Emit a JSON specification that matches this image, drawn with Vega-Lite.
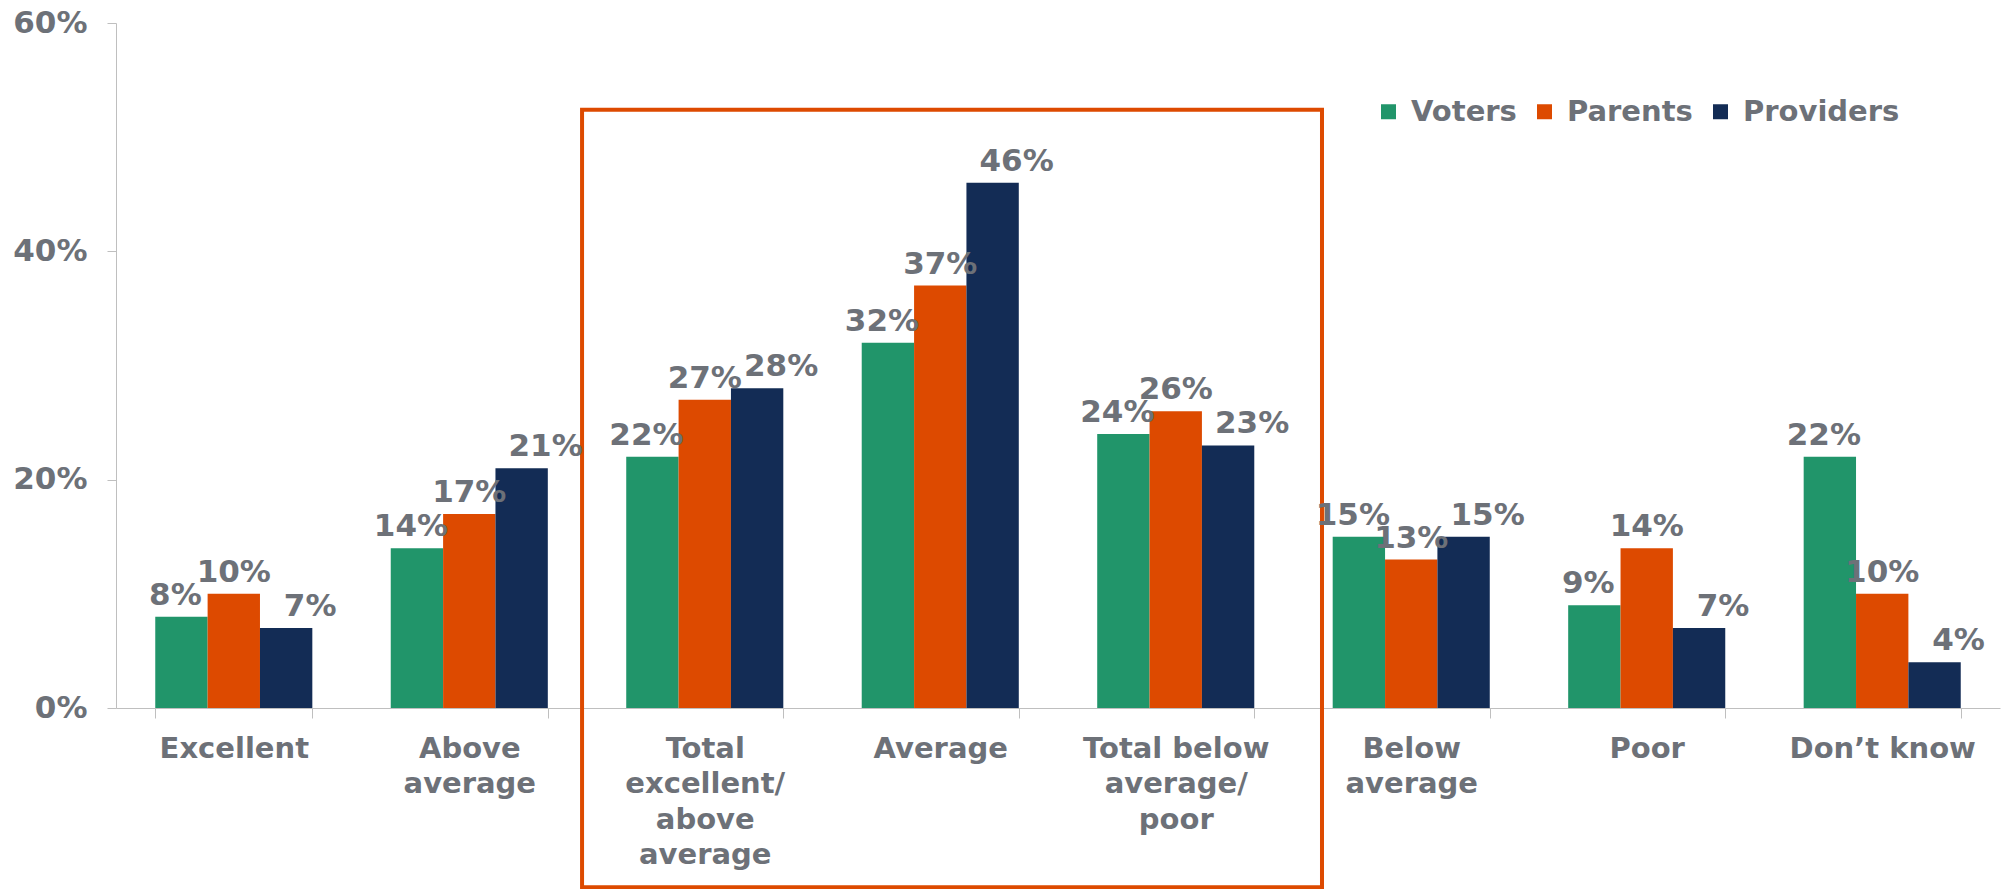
{
  "$schema": "https://vega.github.io/schema/vega-lite/v6.json",
  "width": 1884,
  "height": 685,
  "autosize": {"type": "none"},
  "padding": {"left": 116, "top": 23, "right": 7, "bottom": 181},
  "background": "white",
  "config": {"view": {"stroke": null}, "font": "DejaVu Sans"},
  "resolve": {"scale": {"x": "independent"}, "axis": {"y": "independent", "x": "independent"}},
  "layer": [
    {
      "data": {"values": [{"start": 1.979, "end": 5.121, "low": -0.157, "high": 0.524}]},
      "mark": {"type": "rect", "fillOpacity": 0, "stroke": "#dd4a00", "strokeWidth": 4},
      "encoding": {
        "x": {"field": "start", "type": "quantitative", "scale": {"domain": [0, 8], "nice": false, "zero": false}, "axis": null},
        "x2": {"field": "end"},
        "y": {"field": "low", "type": "quantitative", "scale": {"domain": [0, 0.6], "nice": false}, "axis": null},
        "y2": {"field": "high"}
      }
    },
    {
      "data": {"values": [
        {"rating": "Excellent", "group": "Voters", "share": 0.08},
        {"rating": "Excellent", "group": "Parents", "share": 0.10},
        {"rating": "Excellent", "group": "Providers", "share": 0.07},
        {"rating": "Above average", "group": "Voters", "share": 0.14},
        {"rating": "Above average", "group": "Parents", "share": 0.17},
        {"rating": "Above average", "group": "Providers", "share": 0.21},
        {"rating": "Total excellent/above average", "group": "Voters", "share": 0.22},
        {"rating": "Total excellent/above average", "group": "Parents", "share": 0.27},
        {"rating": "Total excellent/above average", "group": "Providers", "share": 0.28},
        {"rating": "Average", "group": "Voters", "share": 0.32},
        {"rating": "Average", "group": "Parents", "share": 0.37},
        {"rating": "Average", "group": "Providers", "share": 0.46},
        {"rating": "Total below average/poor", "group": "Voters", "share": 0.24},
        {"rating": "Total below average/poor", "group": "Parents", "share": 0.26},
        {"rating": "Total below average/poor", "group": "Providers", "share": 0.23},
        {"rating": "Below average", "group": "Voters", "share": 0.15},
        {"rating": "Below average", "group": "Parents", "share": 0.13},
        {"rating": "Below average", "group": "Providers", "share": 0.15},
        {"rating": "Poor", "group": "Voters", "share": 0.09},
        {"rating": "Poor", "group": "Parents", "share": 0.14},
        {"rating": "Poor", "group": "Providers", "share": 0.07},
        {"rating": "Don’t know", "group": "Voters", "share": 0.22},
        {"rating": "Don’t know", "group": "Parents", "share": 0.10},
        {"rating": "Don’t know", "group": "Providers", "share": 0.04}
      ]},
      "encoding": {
        "x": {
          "field": "rating", "type": "nominal",
          "sort": ["Excellent", "Above average", "Total excellent/above average", "Average", "Total below average/poor", "Below average", "Poor", "Don’t know"],
          "scale": {"paddingInner": 0.333, "paddingOuter": 0.1667},
          "axis": {
            "title": null, "labelAngle": 0, "domainColor": "#bfbfbf", "tickColor": "#bfbfbf",
            "tickSize": 10, "tickBand": "extent", "labelFontSize": 29, "labelFontWeight": "bold",
            "labelColor": "#6d7178", "labelPadding": 16, "labelLineHeight": 35.5, "labelLimit": 400,
            "labelExpr": "datum.value == 'Above average' ? ['Above', 'average'] : datum.value == 'Total excellent/above average' ? ['Total', 'excellent/', 'above', 'average'] : datum.value == 'Total below average/poor' ? ['Total below', 'average/', 'poor'] : datum.value == 'Below average' ? ['Below', 'average'] : datum.value"
          }
        },
        "xOffset": {"field": "group", "type": "nominal", "sort": ["Voters", "Parents", "Providers"]},
        "y": {
          "field": "share", "type": "quantitative",
          "scale": {"domain": [0, 0.6], "nice": false},
          "axis": {
            "title": null, "values": [0, 0.2, 0.4, 0.6], "format": ".0%", "grid": false,
            "domainColor": "#bfbfbf", "tickColor": "#bfbfbf", "tickSize": 9, "labelPadding": 20,
            "labelFontSize": 31, "labelFontWeight": "bold", "labelColor": "#6d7178"
          }
        }
      },
      "layer": [
        {
          "mark": {"type": "bar"},
          "encoding": {
            "color": {
              "field": "group", "type": "nominal",
              "scale": {"domain": ["Voters", "Parents", "Providers"], "range": ["#21956a", "#dd4a00", "#132c55"]},
              "legend": {
                "orient": "none", "legendX": 1258, "legendY": 74, "direction": "horizontal",
                "title": null, "symbolType": "square", "symbolSize": 225, "symbolStrokeWidth": 0,
                "labelFontSize": 29, "labelFontWeight": "bold", "labelColor": "#6d7178",
                "columnPadding": 13, "labelOffset": 8, "padding": 0
              }
            }
          }
        },
        {
          "transform": [{"filter": "datum.group == 'Voters'"}],
          "mark": {"type": "text", "baseline": "alphabetic", "dy": -12, "dx": -6, "fontSize": 31, "fontWeight": "bold", "color": "#6d7178"},
          "encoding": {"text": {"field": "share", "type": "quantitative", "format": ".0%"}}
        },
        {
          "transform": [{"filter": "datum.group == 'Parents'"}],
          "mark": {"type": "text", "baseline": "alphabetic", "dy": -12, "fontSize": 31, "fontWeight": "bold", "color": "#6d7178"},
          "encoding": {"text": {"field": "share", "type": "quantitative", "format": ".0%"}}
        },
        {
          "transform": [{"filter": "datum.group == 'Providers'"}],
          "mark": {"type": "text", "baseline": "alphabetic", "dy": -12, "dx": 24, "fontSize": 31, "fontWeight": "bold", "color": "#6d7178"},
          "encoding": {"text": {"field": "share", "type": "quantitative", "format": ".0%"}}
        }
      ]
    }
  ]
}
